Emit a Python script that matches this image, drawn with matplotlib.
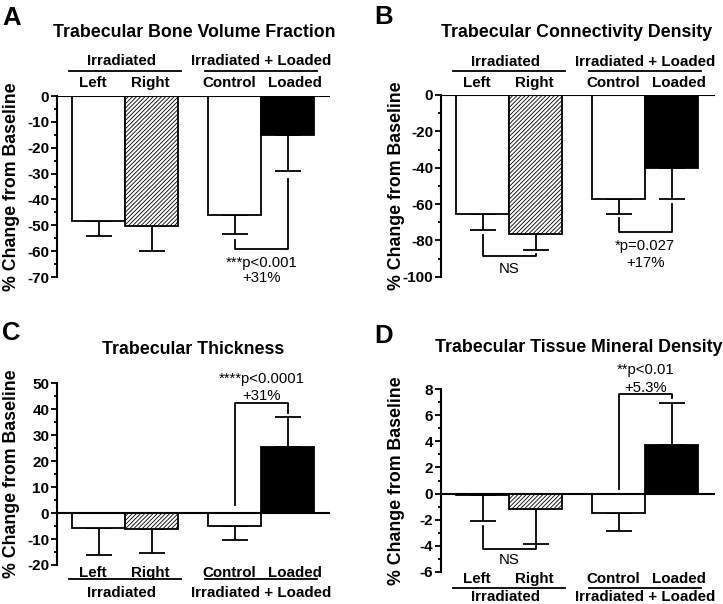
import matplotlib
matplotlib.use("Agg")
import matplotlib.pyplot as plt
import numpy as np
from matplotlib.transforms import blended_transform_factory, IdentityTransform, offset_copy

plt.rcParams['font.family'] = ['Liberation Sans', 'DejaVu Sans']
plt.rcParams['hatch.linewidth'] = 0.6

W, H = 723, 604

categories = ["Left", "Right", "Control", "Loaded"]
groups = ["Irradiated", "Irradiated + Loaded"]

# Panel A: Trabecular Bone Volume Fraction
A_mean = [-48.3, -50.2, -46.0, -14.9]
A_err = [5.7, 9.8, 7.5, 14.0]
# Panel B: Trabecular Connectivity Density
B_mean = [-65.5, -76.7, -57.2, -40.4]
B_err = [8.8, 8.6, 8.3, 16.8]
# Panel C: Trabecular Thickness
C_mean = [-5.6, -6.3, -5.0, 25.4]
C_err = [10.7, 9.0, 5.3, 11.6]
# Panel D: Trabecular Tissue Mineral Density
D_mean = [-0.1, -1.18, -1.46, 3.74]
D_err = [2.03, 2.69, 1.44, 3.23]

titles = ["Trabecular Bone Volume Fraction", "Trabecular Connectivity Density",
          "Trabecular Thickness", "Trabecular Tissue Mineral Density"]
letters = ["A", "B", "C", "D"]

fig = plt.figure(figsize=(W / 100, H / 100), dpi=100)

pos = np.array([1.0, 2.0, 3.57, 4.57])
UNIT = 53.0
LW = 1.3
LABEL_FS = 10.9
cat_dx = [-5.5, -1.5, -5.5, 7.5]   # label offsets in pixels
grp_dx = [-3.0, 0.0]


def px_rect(l, r, t, b):
    return [l / W, 1 - b / H, (r - l) / W, (b - t) / H]


def panel(rect, mean, err, ylim, major, minor, title, letter, title_xy, letter_xy,
          lab_y, brackets, texts):
    l, r, t, b = rect
    ax = fig.add_axes(px_rect(l, r, t, b))
    x0 = 1 - 41.5 / UNIT
    ax.set_xlim(x0, x0 + (r - l) / UNIT)
    ax.set_ylim(*ylim)
    for s in ["top", "right", "bottom"]:
        ax.spines[s].set_visible(False)
    ax.spines["left"].set_linewidth(1.5)
    ax.set_xticks([])
    majors = np.arange(ylim[0], ylim[1] + major / 2, major)
    ax.set_yticks(majors)
    ax.set_yticks(np.arange(ylim[0], ylim[1] + minor / 2, minor), minor=True)
    ax.set_yticklabels([f"{v:g}" for v in majors])
    ax.tick_params(axis="y", which="major", length=4, width=1.3, pad=1.5,
                   labelsize=11)
    ax.tick_params(axis="y", which="minor", length=2.5, width=1.3)
    for lab in ax.get_yticklabels():
        lab.set_fontweight("bold")
    ax.axhline(0, color="black", lw=1.5, zorder=4)

    fills = ["white", "white", "white", "black"]
    hatches = [None, "////////", None, None]
    m = np.array(mean)
    e = np.array(err)
    lower = np.where(m < 0, e, 0)
    upper = np.where(m > 0, e, 0)
    ax.errorbar(pos, m, yerr=[lower, upper], fmt="none", ecolor="black",
                elinewidth=LW, capsize=9.4, capthick=LW, zorder=1, clip_on=False)
    for p_, v, fc, h in zip(pos, m, fills, hatches):
        ax.bar(p_, v, width=1.0, color=fc, edgecolor="black", linewidth=LW,
               hatch=h, zorder=2)

    for (i, j, y_i, y_low, y_j) in brackets:
        ax.plot([pos[i], pos[i], pos[j], pos[j]], [y_i, y_low, y_low, y_j],
                color="black", lw=LW, clip_on=False, zorder=3)
    for (xc, y, s) in texts:
        ax.text(xc, y, s, ha="center", va="baseline", fontsize=10.7, clip_on=False)

    tr = blended_transform_factory(ax.transData, IdentityTransform())
    cat_y, line_y, grp_y = lab_y
    for k, c in enumerate(categories):
        trk = offset_copy(tr, fig=fig, x=cat_dx[k], y=0, units="dots")
        ax.text(pos[k], H - cat_y, c, transform=trk, ha="center", va="baseline",
                fontsize=LABEL_FS, fontweight="bold")
    gx = [(pos[0] + pos[1]) / 2, (pos[2] + pos[3]) / 2]
    spans = [(pos[0] - 0.56, pos[1] + 0.56), (pos[2] - 0.56, pos[3] + 0.56)]
    for g, gxx, dx, (s0, s1) in zip(groups, gx, grp_dx, spans):
        trg = offset_copy(tr, fig=fig, x=dx, y=0, units="dots")
        ax.text(gxx, H - grp_y, g, transform=trg, ha="center", va="baseline",
                fontsize=LABEL_FS, fontweight="bold")
        ax.plot([s0, s1], [H - line_y, H - line_y], transform=tr, color="black",
                lw=1.3, clip_on=False)

    fig.text(title_xy[0] / W, 1 - title_xy[1] / H, title, ha="center", va="baseline",
             fontsize=12.8, fontweight="bold")
    fig.text(letter_xy[0] / W, 1 - letter_xy[1] / H, letter, ha="left", va="baseline",
             fontsize=18.5, fontweight="bold")
    ylab_x = l - 45
    fig.text(ylab_x / W, 1 - ((t + b) / 2) / H, "% Change from Baseline", rotation=90,
             ha="center", va="center", fontsize=12.8, fontweight="bold")
    return ax


mid = (pos[2] + pos[3]) / 2
midL = (pos[0] + pos[1]) / 2

panel((57, 330, 96, 277), A_mean, A_err, (-70, 0), 10, 5, titles[0], letters[0],
      (194, 36.7), (2, 25), (87.3, 70.7, 65),
      [(2, 3, -55.5, -59.1, -32.0)],
      [(mid, -66.0, "***p<0.001"), (mid, -71.8, "+31%")])

panel((441, 715, 95, 276.7), B_mean, B_err, (-100, 0), 20, 10, titles[1], letters[1],
      (576.5, 36.7), (374, 24), (87.3, 71, 66.5),
      [(0, 1, -77.0, -88.5, -87.5), (2, 3, -67.7, -75.4, -60.0)],
      [(midL, -98.1, "NS"), (mid, -85.3, "*p=0.027"), (mid, -94.5, "+17%")])

panel((57, 330, 383.3, 565), C_mean, C_err, (-20, 50), 10, 5, titles[2], letters[2],
      (193.5, 354), (2, 340), (576.7, 578.5, 596.7),
      [(2, 3, 3.0, 42.5, 38.5)],
      [(mid, 50.0, "****p<0.0001"), (mid, 43.7, "+31%")])

panel((441, 715, 389.3, 571.7), D_mean, D_err, (-6, 8), 2, 1, titles[3], letters[3],
      (578.5, 352.5), (374, 342.7), (583.3, 587.5, 601),
      [(0, 1, -2.46, -4.25, -4.05), (2, 3, 0.35, 7.66, 7.3)],
      [(midL, -5.4, "NS"), (mid, 9.14, "**p<0.01"), (mid, 7.78, "+5.3%")])

fig.savefig("out.png", dpi=100)
